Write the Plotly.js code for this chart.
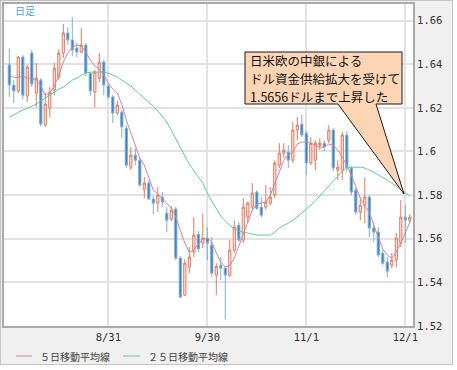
<!DOCTYPE html>
<html><head><meta charset="utf-8">
<script src="https://cdn.plot.ly/plotly-3.0.1.min.js"></script>
<style>
html,body{margin:0;padding:0;background:#fff;}
#wrap{position:absolute;left:0;top:0;width:451px;height:363px;border:1px solid #c4c4c4;}
#chart{width:451px;height:363px;}
</style></head>
<body><div id="wrap"><div id="chart"></div></div>
<script>
const dates = ['8/1','8/2','8/3','8/4','8/5','8/8','8/9','8/10','8/11','8/12','8/15','8/16','8/17','8/18','8/19','8/22','8/23','8/24','8/25','8/26','8/29','8/30','8/31',
'9/1','9/2','9/5','9/6','9/7','9/8','9/9','9/12','9/13','9/14','9/15','9/16','9/19','9/20','9/21','9/22','9/23','9/26','9/27','9/28','9/29','9/30',
'10/3','10/4','10/5','10/6','10/7','10/10','10/11','10/12','10/13','10/14','10/17','10/18','10/19','10/20','10/21','10/24','10/25','10/26','10/27','10/28','10/31',
'11/1','11/2','11/3','11/4','11/7','11/8','11/9','11/10','11/11','11/14','11/15','11/16','11/17','11/18','11/21','11/22','11/23','11/24','11/25','11/28','11/29','11/30',
'12/1','12/2'];

const open = [1.6396,1.6304,1.6277,1.6433,1.6254,1.6451,1.6268,1.6327,1.6121,1.6199,
1.6281,1.6341,1.6451,1.6543,1.6511,1.6474,1.6456,1.6488,1.6359,1.6272,
1.6336,1.6410,1.6300,1.6250,1.6176,1.6180,1.6107,1.5928,1.5983,1.5960,
1.5827,1.5855,1.5782,1.5763,1.5791,1.5717,1.5690,1.5736,1.5511,1.5341,
1.5470,1.5539,1.5621,1.5580,1.5603,1.5571,1.5433,1.5479,1.5465,1.5433,
1.5548,1.5662,1.5594,1.5699,1.5745,1.5814,1.5745,1.5745,1.5763,1.5800,
1.5937,1.5992,1.5997,1.5960,1.6098,1.6125,1.6084,1.5947,1.5960,1.6029,
1.6038,1.6052,1.6098,1.5915,1.5915,1.6075,1.5924,1.5823,1.5722,1.5754,
1.5791,1.5649,1.5630,1.5534,1.5493,1.5479,1.5502,1.5580,1.5699,1.5685];
const high = [1.6472,1.6327,1.6437,1.6442,1.6396,1.6465,1.6405,1.6336,1.6268,1.6295,
1.6405,1.6469,1.6584,1.6570,1.6616,1.6497,1.6566,1.6497,1.6364,1.6373,
1.6451,1.6419,1.6313,1.6258,1.6231,1.6190,1.6121,1.6020,1.6015,1.5970,
1.5882,1.5869,1.5795,1.5837,1.5814,1.5745,1.5749,1.5745,1.5520,1.5506,
1.5562,1.5699,1.5635,1.5717,1.5653,1.5607,1.5488,1.5516,1.5474,1.5594,
1.5685,1.5676,1.5786,1.5772,1.5855,1.5823,1.5791,1.5846,1.5837,1.5960,
1.6038,1.6038,1.6029,1.6135,1.6158,1.6167,1.6093,1.6066,1.6052,1.6061,
1.6052,1.6121,1.6107,1.5960,1.6089,1.6093,1.5933,1.5832,1.5791,1.5882,
1.5800,1.5676,1.5653,1.5548,1.5516,1.5534,1.5626,1.5777,1.5754,1.5713];
const low = [1.6250,1.6222,1.6268,1.6240,1.6226,1.6295,1.6203,1.6116,1.6112,1.6158,
1.6258,1.6327,1.6428,1.6488,1.6437,1.6433,1.6451,1.6345,1.6254,1.6203,
1.6318,1.6258,1.6240,1.6130,1.6167,1.6061,1.5924,1.5915,1.5937,1.5837,
1.5786,1.5777,1.5713,1.5722,1.5745,1.5630,1.5681,1.5502,1.5328,1.5337,
1.5442,1.5516,1.5539,1.5557,1.5502,1.5424,1.5341,1.5410,1.5231,1.5424,
1.5534,1.5585,1.5580,1.5671,1.5731,1.5731,1.5699,1.5731,1.5754,1.5786,
1.5924,1.5970,1.5924,1.5947,1.6052,1.6066,1.5892,1.5937,1.5915,1.6006,
1.6001,1.6038,1.5910,1.5869,1.5869,1.5905,1.5800,1.5708,1.5685,1.5671,
1.5607,1.5585,1.5516,1.5479,1.5424,1.5465,1.5470,1.5562,1.5580,1.5671];
const close = [1.6305,1.6277,1.6433,1.6258,1.6387,1.6309,1.6336,1.6125,1.6217,1.6272,
1.6382,1.6451,1.6543,1.6511,1.6465,1.6456,1.6488,1.6359,1.6277,1.6364,
1.6410,1.6305,1.6250,1.6176,1.6213,1.6112,1.5937,1.5983,1.5960,1.5846,
1.5855,1.5782,1.5763,1.5800,1.5768,1.5685,1.5731,1.5511,1.5332,1.5488,
1.5516,1.5617,1.5553,1.5603,1.5580,1.5442,1.5474,1.5465,1.5433,1.5548,
1.5653,1.5594,1.5745,1.5763,1.5809,1.5740,1.5708,1.5768,1.5791,1.5947,
1.5992,1.6006,1.5960,1.6098,1.6121,1.6075,1.5947,1.6038,1.6038,1.6038,
1.6020,1.6098,1.5924,1.5928,1.6075,1.5924,1.5814,1.5722,1.5754,1.5791,
1.5649,1.5630,1.5525,1.5488,1.5451,1.5502,1.5603,1.5699,1.5685,1.5699];

const ma5 = [1.6350,1.6340,1.6340,1.6346,1.6336,1.6336,1.6327,1.6300,1.6258,1.6268,
1.6300,1.6350,1.6410,1.6451,1.6478,1.6488,1.6483,1.6456,1.6419,1.6392,
1.6378,1.6350,1.6313,1.6286,1.6268,1.6217,1.6144,1.6089,1.6029,1.5970,
1.5937,1.5878,1.5823,1.5805,1.5782,1.5763,1.5740,1.5699,1.5635,1.5580,
1.5539,1.5548,1.5576,1.5599,1.5603,1.5585,1.5534,1.5493,1.5470,1.5479,
1.5511,1.5571,1.5621,1.5676,1.5731,1.5759,1.5763,1.5768,1.5800,1.5850,
1.5905,1.5960,1.5983,1.5997,1.6034,1.6043,1.6043,1.6038,1.6029,1.6020,
1.6020,1.6034,1.6029,1.6006,1.5974,1.5937,1.5892,1.5841,1.5786,1.5750,
1.5722,1.5662,1.5603,1.5553,1.5525,1.5511,1.5539,1.5580,1.5626,1.5676];
const ma25 = [1.6158,1.6167,1.6180,1.6190,1.6199,1.6208,1.6217,1.6231,1.6245,1.6258,
1.6272,1.6286,1.6295,1.6313,1.6327,1.6336,1.6350,1.6359,1.6364,1.6364,
1.6364,1.6364,1.6359,1.6350,1.6341,1.6327,1.6313,1.6300,1.6281,1.6263,
1.6245,1.6226,1.6208,1.6185,1.6162,1.6135,1.6098,1.6057,1.6015,1.5979,
1.5942,1.5910,1.5882,1.5855,1.5809,1.5772,1.5736,1.5704,1.5681,1.5662,
1.5644,1.5635,1.5630,1.5626,1.5621,1.5617,1.5617,1.5617,1.5617,1.5630,
1.5649,1.5662,1.5671,1.5685,1.5699,1.5717,1.5736,1.5754,1.5772,1.5795,
1.5818,1.5841,1.5869,1.5892,1.5910,1.5924,1.5928,1.5928,1.5928,1.5924,
1.5915,1.5905,1.5892,1.5882,1.5869,1.5855,1.5841,1.5823,1.5809,1.5795];

const xTicks = ['8/31','9/30','11/1','12/1'];
const yTicks = [1.52,1.54,1.56,1.58,1.60,1.62,1.64,1.66];
const yTickText = ['1.52','1.54','1.56','1.58','1.6','1.62','1.64','1.66'];
const legendNames = ['５日移動平均線','２５日移動平均線'];
const noteLines = ['日米欧の中銀による','ドル資金供給拡大を受けて','1.5656ドルまで上昇した'];
const frameLabel = '日足';

// page pixel -> paper coords (plot area spans x 4..413, y 4..326 on the page)
const PX = p => (p - 4) / 409;
const PY = p => (326 - p) / 322;

const traces = [
  {type:'candlestick', x:dates, open:open, high:high, low:low, close:close,
   increasing:{line:{color:'#e27a5e', width:1}, fillcolor:'#fde6dc'},
   decreasing:{line:{color:'#7eaed8', width:1}, fillcolor:'#3a7db8'},
   whiskerwidth:0, hoverinfo:'skip', showlegend:false},
  {type:'scatter', mode:'lines', x:dates, y:ma5, name:legendNames[0],
   line:{color:'#d084a6', width:1}, hoverinfo:'skip', showlegend:false},
  {type:'scatter', mode:'lines', x:dates, y:ma25, name:legendNames[1],
   line:{color:'#5ccd98', width:1}, hoverinfo:'skip', showlegend:false}
];

const bubble = 'M' + PX(245) + ',' + PY(52) + ' L' + PX(402) + ',' + PY(52) +
  ' L' + PX(402) + ',' + PY(104) + ' L' + PX(376) + ',' + PY(104) +
  ' L' + PX(404) + ',' + PY(194) + ' L' + PX(338) + ',' + PY(104) +
  ' L' + PX(245) + ',' + PY(104) + ' Z';

const shapes = [
  {type:'path', xref:'paper', yref:'paper', path:bubble, fillcolor:'#fdd5b4',
   line:{color:'#1a1a1a', width:1}, layer:'above'},
  {type:'line', xref:'paper', yref:'paper', x0:PX(16), x1:PX(32), y0:PY(356), y1:PY(356),
   line:{color:'#d084a6', width:1}},
  {type:'line', xref:'paper', yref:'paper', x0:PX(123), x1:PX(140), y0:PY(356), y1:PY(356),
   line:{color:'#5ccd98', width:1}}
];

const cjk = '"Noto Sans CJK JP", "Noto Sans", sans-serif';
const annotations = [
  {xref:'paper', yref:'paper', x:PX(13), y:PY(11), xanchor:'left', yanchor:'middle',
   text:frameLabel, showarrow:false, font:{family:cjk, size:10, color:'#4aa8de'}},
  {xref:'paper', yref:'paper', x:PX(38), y:PY(356), xanchor:'left', yanchor:'middle',
   text:legendNames[0], showarrow:false, font:{family:cjk, size:10, color:'#444'}},
  {xref:'paper', yref:'paper', x:PX(146), y:PY(356), xanchor:'left', yanchor:'middle',
   text:legendNames[1], showarrow:false, font:{family:cjk, size:10, color:'#444'}}
];
const lineY = [60, 78, 96];
noteLines.forEach((t, k) => annotations.push({
  xref:'paper', yref:'paper', x:PX(248), y:PY(lineY[k]), xanchor:'left', yanchor:'middle',
  text:t, showarrow:false, font:{family:cjk, size:12.5, color:'#111'}
}));

const layout = {
  width:451, height:363,
  margin:{l:3, r:39, t:3, b:38, pad:0},
  paper_bgcolor:'#f0f0f0', plot_bgcolor:'#ffffff',
  showlegend:false,
  xaxis:{type:'category', range:[-1.18, 89.71], rangeslider:{visible:false},
    tickmode:'array', tickvals:xTicks, ticktext:xTicks,
    showgrid:true, gridcolor:'#e2e2e2', gridwidth:2,
    showline:true, mirror:true, linecolor:'#aaaaaa', linewidth:2,
    ticks:'', tickfont:{family:'"DejaVu Sans Mono", monospace', size:10.5, color:'#333'},
    fixedrange:true},
  yaxis:{side:'right', range:[1.52, 1.6676], tickmode:'array', tickvals:yTicks, ticktext:yTickText,
    showgrid:true, gridcolor:'#e2e2e2', gridwidth:2, zeroline:false,
    showline:true, mirror:true, linecolor:'#aaaaaa', linewidth:2,
    ticks:'', tickfont:{family:'"DejaVu Sans Mono", monospace', size:10.5, color:'#333'},
    fixedrange:true},
  shapes:shapes,
  annotations:annotations
};

Plotly.newPlot('chart', traces, layout, {displayModeBar:false, staticPlot:true});
</script></body></html>
